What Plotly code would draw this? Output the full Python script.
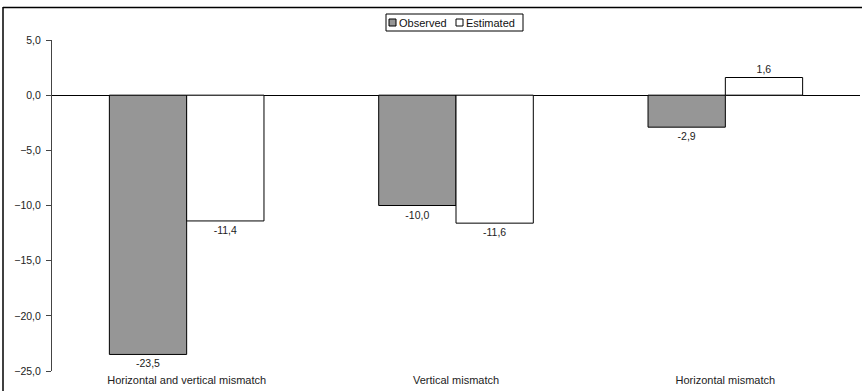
import plotly.graph_objects as go

categories = ["Horizontal and vertical mismatch", "Vertical mismatch", "Horizontal mismatch"]
observed = [-23.5, -10.0, -2.9]
estimated = [-11.4, -11.6, 1.6]
y_ticks = [5, 0, -5, -10, -15, -20, -25]
series_names = ["Observed", "Estimated"]
series_colors = ["#969696", "#ffffff"]

def fmt(v):
    return f"{v:.1f}".replace(".", ",")

FONT = "Liberation Sans, Arial"

fig = go.Figure()
for name, vals, col in zip(series_names, [observed, estimated], series_colors):
    fig.add_trace(go.Bar(
        name=name, x=categories, y=vals,
        marker=dict(color=col, line=dict(color="#000000", width=1)),
        text=[fmt(v) for v in vals], textposition="outside",
        textfont=dict(size=10.5, color="#222222", family=FONT),
        cliponaxis=False, showlegend=False,
    ))

L, R, T, B = 52, 2, 40, 20
W, H = 862, 391
pw, ph = W - L - R, H - T - B

def px(x):
    return (x - L) / pw

def py(y):
    return (H - B - y) / ph

shapes = [
    dict(type="line", xref="paper", yref="paper",
         x0=px(3), x1=px(862), y0=py(7.5), y1=py(7.5),
         line=dict(color="#000000", width=1.5)),
    dict(type="line", xref="paper", yref="paper",
         x0=px(3), x1=px(3), y0=py(7), y1=py(392),
         line=dict(color="#000000", width=1.5)),
    # legend box
    dict(type="rect", xref="paper", yref="paper",
         x0=px(386), x1=px(523), y0=py(31), y1=py(14),
         line=dict(color="#000000", width=1), fillcolor="white"),
]
annotations = []
legend_sq_x = [389, 456]
for name, col, sx in zip(series_names, series_colors, legend_sq_x):
    shapes.append(dict(type="rect", xref="paper", yref="paper",
                       x0=px(sx), x1=px(sx + 7), y0=py(26), y1=py(19),
                       line=dict(color="#000000", width=1), fillcolor=col))
    annotations.append(dict(xref="paper", yref="paper", x=px(sx + 8), y=py(22.5),
                            xanchor="left", yanchor="middle", text=name, showarrow=False,
                            font=dict(size=11, color="#111111", family=FONT)))

fig.update_layout(
    width=W, height=H,
    margin=dict(l=L, r=R, t=T, b=B, pad=0, autoexpand=False),
    paper_bgcolor="white", plot_bgcolor="white",
    separators=",.",
    font=dict(family=FONT, size=10.5, color="#222222"),
    barmode="group", bargap=0.426, bargroupgap=0,
    showlegend=False,
    xaxis=dict(
        showline=False, ticks="", showgrid=False,
        tickfont=dict(size=11, color="#222222"),
        ticklabelstandoff=1,
    ),
    yaxis=dict(
        range=[-25, 5], tickvals=y_ticks, tickformat=".1f",
        showgrid=False, showline=True, linecolor="#444444", linewidth=1,
        ticks="outside", ticklen=5, tickcolor="#444444",
        zeroline=True, zerolinecolor="#000000", zerolinewidth=1,
        tickfont=dict(size=10.5, color="#222222"),
        ticklabelstandoff=3,
    ),
    shapes=shapes,
    annotations=annotations,
)

fig.write_html(
    "out.html",
    config={"displayModeBar": False},
    post_script="document.body.style.margin='0px';document.body.style.overflow='hidden';",
)
